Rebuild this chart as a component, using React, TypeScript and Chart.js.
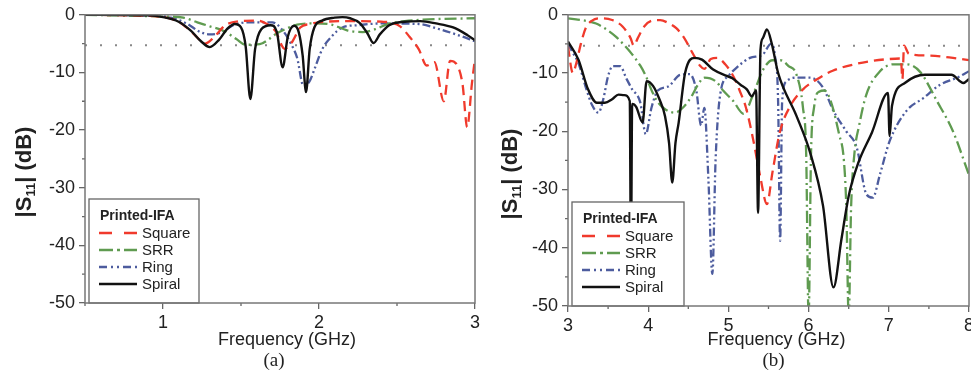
import React, { useEffect, useRef } from "react";
import { Chart, registerables } from "chart.js";
Chart.register(...registerables);

// ---------- Panel (a): 0.5 – 3 GHz ----------
const fA_square = [0.5, 0.8, 1.0, 1.1, 1.15, 1.2, 1.27, 1.33, 1.4, 1.5, 1.6, 1.66, 1.72, 1.78, 1.825, 1.88, 1.94, 2.0, 2.2, 2.4, 2.47, 2.52, 2.58, 2.64, 2.69, 2.74, 2.8, 2.84, 2.88, 2.92, 2.95, 2.98, 3.0];
const sA_square = [0, -0.1, -0.4, -1.2, -2.2, -3.4, -5.0, -3.8, -1.8, -1.1, -1.0, -1.5, -2.8, -5.9, -4.8, -2.2, -1.6, -1.3, -1.1, -1.2, -1.4, -2.0, -3.8, -6.0, -8.8, -8.2, -15.0, -8.0, -8.5, -12.0, -19.5, -12.0, -7.5];

const fA_srr = [0.5, 1.0, 1.13, 1.22, 1.3, 1.39, 1.47, 1.53, 1.62, 1.68, 1.73, 1.8, 1.86, 1.97, 2.08, 2.18, 2.28, 2.36, 2.44, 2.55, 2.7, 3.0];
const sA_srr = [0, -0.3, -0.5, -1.3, -2.0, -2.8, -4.2, -5.2, -5.1, -4.2, -3.2, -2.3, -1.7, -1.5, -1.7, -2.7, -3.0, -2.5, -1.6, -1.1, -0.8, -0.6];

const fA_ring = [0.5, 0.9, 1.05, 1.15, 1.24, 1.3, 1.38, 1.45, 1.55, 1.7, 1.77, 1.82, 1.86, 1.9, 1.94, 1.97, 2.02, 2.08, 2.15, 2.25, 2.4, 2.64, 2.76, 2.9, 3.0];
const sA_ring = [0, -0.1, -0.5, -1.5, -3.0, -3.4, -3.0, -1.8, -1.3, -1.3, -2.8, -5.0, -7.5, -12.3, -11.5, -9.5, -6.0, -3.8, -2.2, -1.8, -1.5, -1.6, -2.4, -3.6, -4.6];

const fA_spiral = [0.5, 0.9, 1.0, 1.1, 1.18, 1.24, 1.3, 1.36, 1.41, 1.46, 1.5, 1.53, 1.56, 1.59, 1.63, 1.69, 1.73, 1.767, 1.8, 1.84, 1.87, 1.895, 1.917, 1.94, 1.97, 2.02, 2.1, 2.15, 2.2, 2.26, 2.31, 2.35, 2.39, 2.45, 2.55, 2.65, 2.75, 2.86, 2.95, 3.0];
const sA_spiral = [0, -0.1, -0.4, -1.2, -2.8, -4.5, -5.6, -4.3, -2.5, -1.6, -2.2, -5.5, -14.6, -6.0, -2.5, -1.8, -3.0, -9.1, -3.8, -1.9, -3.0, -7.0, -13.4, -6.0, -2.2, -1.0, -0.5, -0.4, -0.6, -1.4, -3.2, -4.9, -3.4, -1.8, -1.2, -1.1, -1.5, -2.2, -3.5, -4.4];

// ---------- Panel (b): 3 – 8 GHz ----------
const fB_square = [3.0, 3.06, 3.1, 3.16, 3.22, 3.3, 3.42, 3.55, 3.68, 3.78, 3.82, 3.87, 3.95, 4.05, 4.15, 4.25, 4.35, 4.45, 4.55, 4.65, 4.7, 4.78, 4.86, 4.96, 5.06, 5.14, 5.22, 5.31, 5.4, 5.48, 5.55, 5.64, 5.77, 5.93, 6.1, 6.3, 6.6, 6.8, 7.0, 7.15, 7.17, 7.19, 7.25, 7.5, 7.8, 8.0];
const sB_square = [-5.5, -10.0, -8.5, -5.0, -2.3, -1.0, -0.6, -0.9, -2.0, -4.0, -5.3, -4.0, -2.0, -1.0, -0.9, -1.4, -2.3, -4.0, -6.5, -8.8, -9.3, -7.6, -7.4, -8.5, -10.5, -13.0, -16.0, -21.5, -28.0, -32.5, -27.0, -20.2, -15.7, -12.8, -11.1, -9.6, -8.4, -7.9, -7.6, -7.5, -11.0, -5.3, -6.7, -7.0, -7.4, -7.8];

const fB_srr = [3.0, 3.1, 3.25, 3.35, 3.5, 3.6, 3.7, 3.8, 3.9, 3.97, 4.05, 4.12, 4.22, 4.33, 4.45, 4.54, 4.62, 4.7, 4.85, 4.94, 5.06, 5.19, 5.3, 5.43, 5.55, 5.65, 5.75, 5.85, 5.93, 5.97, 6.0, 6.03, 6.07, 6.13, 6.2, 6.28, 6.38, 6.44, 6.47, 6.5, 6.53, 6.57, 6.63, 6.72, 6.89, 7.06, 7.22, 7.39, 7.6, 7.8, 8.0];
const sB_srr = [-0.6, -0.8, -1.1, -1.5, -2.7, -3.8, -5.2, -6.8, -8.7, -10.5, -13.2, -15.0, -16.3, -16.8, -15.7, -14.0, -12.0, -10.8, -11.5, -13.1, -14.8, -17.0, -14.0, -9.5, -7.8, -7.8, -8.8, -10.3, -16.0, -24.0, -52, -24.0, -15.7, -13.2, -13.0, -15.0, -20.5, -25.0, -33.0, -52, -33.0, -24.0, -19.0, -13.7, -9.7, -8.5, -8.5, -9.8, -14.8, -20.0, -27.5];

const fB_ring = [3.0, 3.06, 3.13, 3.23, 3.3, 3.38, 3.44, 3.5, 3.56, 3.65, 3.73, 3.8, 3.9, 3.97, 4.04, 4.12, 4.25, 4.4, 4.52, 4.6, 4.66, 4.7, 4.75, 4.8, 4.84, 4.9, 5.0, 5.1, 5.27, 5.43, 5.53, 5.58, 5.62, 5.645, 5.67, 5.72, 5.85, 6.02, 6.18, 6.31, 6.47, 6.6, 6.72, 6.8, 6.89, 7.01, 7.22, 7.43, 7.64, 7.85, 8.0];
const sB_ring = [-5.0, -6.5, -8.3, -12.8, -15.5, -16.8, -14.5, -10.5, -8.8, -8.8, -11.0, -12.8, -15.0, -20.5, -16.0, -13.0, -12.3, -10.3, -10.2, -13.0, -19.0, -16.0, -28.0, -44.5, -25.0, -13.5, -10.5, -9.1, -7.4, -6.8, -5.0, -7.0, -15.0, -38.8, -15.0, -11.5, -10.8, -10.8, -12.5, -16.5, -20.0, -22.8, -30.8, -31.4, -27.4, -21.7, -16.5, -14.3, -12.0, -10.8, -9.7];

const fB_spiral = [3.0, 3.13, 3.25, 3.36, 3.46, 3.55, 3.63, 3.7, 3.77, 3.785, 3.8, 3.85, 3.93, 3.98, 4.06, 4.14, 4.21, 4.26, 4.3, 4.34, 4.38, 4.46, 4.58, 4.67, 4.81, 4.98, 5.05, 5.15, 5.23, 5.29, 5.345, 5.37, 5.4, 5.43, 5.48, 5.54, 5.62, 5.85, 6.02, 6.18, 6.31, 6.41, 6.5, 6.62, 6.79, 6.99, 7.01, 7.04, 7.2, 7.45, 7.78, 7.93, 8.0];
const sB_spiral = [-4.6, -7.7, -12.8, -15.1, -15.1, -14.5, -13.7, -13.8, -14.8, -42, -15.3, -15.8, -18.5, -11.4, -12.2, -14.5, -17.4, -22, -28.8, -22, -18.5, -10.0, -7.4, -7.7, -9.4, -10.5, -10.9, -12.0, -12.8, -14.0, -13.0, -34.0, -6.0, -4.0, -2.5, -4.9, -10.0, -17.4, -23.7, -32.8, -46.8, -38.5, -31.1, -25.4, -20.2, -13.4, -20.8, -15.6, -11.7, -10.3, -10.3, -11.7, -11.0];

// reference level (dotted)
const refLevel = -5.3;

// axes
const xTicksA = [0.5, 1, 1.5, 2, 2.5, 3];
const xTicksB = [3, 3.5, 4, 4.5, 5, 5.5, 6, 6.5, 7, 7.5, 8];
const yTicks = [0, -5, -10, -15, -20, -25, -30, -35, -40, -45, -50];

// legend
const legendTitle = "Printed-IFA";
const seriesNames = ["Square", "SRR", "Ring", "Spiral"];

// styles (kept separate from data)
const STYLE = [
  { color: "#f03a2c", dash: [10, 6], legendDash: [13, 12] },
  { color: "#5f9b50", dash: [12, 4, 2, 4], legendDash: [14, 4, 3, 4] },
  { color: "#4d5c9e", dash: [8, 3, 2, 3, 2, 3], legendDash: [8, 4, 2, 4, 2, 4] },
  { color: "#111111", dash: [], legendDash: [] },
];

const FONT = '"Liberation Sans", Arial, Helvetica, sans-serif';
const AXIS_COLOR = "#666";

const pts = (xs: number[], ys: number[]) => xs.map((x, i) => ({ x, y: ys[i] }));
const isMajorX = (v: number) => Number.isInteger(v);
const isMajorY = (v: number) => v % 10 === 0;

type PanelParams = {
  xs: number[][];
  ys: number[][];
  xMin: number;
  xMax: number;
  xTicks: number[];
  yAxisWidth: number;
  padTop: number;
  xAxisHeight: number;
  padRight: number;
  legendW: number;
  caption: string;
  yTitleDx: number;
  yTitleY: number;
  xTitleDx: number;
  capDx: number;
};

function makeDeco(p: PanelParams) {
  return {
    id: "deco",
    afterDatasetsDraw(chart: any) {
      const { ctx, chartArea: ca } = chart;
      const bh = 104;
      const bx = ca.left + 4;
      const by = ca.bottom - bh;
      const bw = p.legendW;
      ctx.save();
      ctx.fillStyle = "#ffffff";
      ctx.fillRect(bx, by, bw, bh);
      ctx.strokeStyle = "#666";
      ctx.lineWidth = 1.3;
      ctx.strokeRect(bx, by, bw, bh);
      ctx.fillStyle = "#222";
      ctx.textAlign = "left";
      ctx.textBaseline = "middle";
      ctx.font = `bold 14px ${FONT}`;
      ctx.fillText(legendTitle, bx + 11, by + 17);
      ctx.font = `15px ${FONT}`;
      seriesNames.forEach((name, i) => {
        const y = by + 34 + i * 17;
        const st = STYLE[i];
        ctx.strokeStyle = st.color;
        ctx.lineWidth = 2.3;
        ctx.setLineDash(st.legendDash);
        ctx.beginPath();
        ctx.moveTo(bx + 10, y);
        ctx.lineTo(bx + 48, y);
        ctx.stroke();
        ctx.setLineDash([]);
        ctx.fillStyle = "#222";
        ctx.fillText(name, bx + 53, y + 1);
      });
      ctx.restore();
    },
    afterDraw(chart: any) {
      const { ctx, chartArea: ca } = chart;
      const xs = chart.scales.x;
      const ys = chart.scales.y;
      ctx.save();
      // minor ticks (short, outward)
      ctx.strokeStyle = AXIS_COLOR;
      ctx.lineWidth = 1.3;
      ctx.beginPath();
      p.xTicks.filter((v) => !isMajorX(v)).forEach((v) => {
        const px = xs.getPixelForValue(v);
        ctx.moveTo(px, ca.bottom);
        ctx.lineTo(px, ca.bottom + 3);
      });
      yTicks.filter((v) => !isMajorY(v)).forEach((v) => {
        const py = ys.getPixelForValue(v);
        ctx.moveTo(ca.left - 3, py);
        ctx.lineTo(ca.left, py);
      });
      ctx.stroke();
      // frame
      ctx.strokeStyle = "#777";
      ctx.lineWidth = 1.5;
      ctx.strokeRect(ca.left, ca.top, ca.right - ca.left, ca.bottom - ca.top);
      // y title with subscript
      ctx.translate(ca.left + p.yTitleDx, p.yTitleY);
      ctx.rotate(-Math.PI / 2);
      ctx.fillStyle = "#222";
      ctx.textBaseline = "middle";
      ctx.textAlign = "left";
      const big = `bold 22px ${FONT}`;
      const small = `bold 13px ${FONT}`;
      const parts: [string, string, number][] = [
        ["|S", big, 0],
        ["11", small, 6],
        ["| (dB)", big, 0],
      ];
      let total = 0;
      parts.forEach(([t, f]) => {
        ctx.font = f;
        total += ctx.measureText(t).width;
      });
      let x = -total / 2;
      parts.forEach(([t, f, dy]) => {
        ctx.font = f;
        ctx.fillText(t, x, dy);
        x += ctx.measureText(t).width;
      });
      ctx.restore();
      ctx.save();
      ctx.fillStyle = "#222";
      ctx.textAlign = "center";
      ctx.textBaseline = "middle";
      ctx.font = `18px ${FONT}`;
      const cx = (ca.left + ca.right) / 2;
      ctx.fillText("Frequency (GHz)", cx + p.xTitleDx, 340);
      ctx.font = `19px "Liberation Serif", "Times New Roman", serif`;
      ctx.fillText(p.caption, cx + p.capDx, 361);
      ctx.restore();
    },
  };
}

function buildConfig(p: PanelParams): any {
  const datasets: any[] = [];
  // draw order: Spiral on top (index 0 drawn last)
  [3, 0, 1, 2].forEach((i) => {
    datasets.push({
      label: seriesNames[i],
      data: pts(p.xs[i], p.ys[i]),
      borderColor: STYLE[i].color,
      borderDash: STYLE[i].dash,
      borderWidth: i === 3 ? 2.4 : 2.3,
      pointRadius: 0,
      cubicInterpolationMode: "monotone",
      fill: false,
    });
  });
  datasets.push({
    label: "ref",
    data: [
      { x: p.xMin, y: refLevel },
      { x: p.xMax, y: refLevel },
    ],
    borderColor: "#888",
    borderDash: [2, 13],
    borderWidth: 2,
    pointRadius: 0,
    fill: false,
  });
  return {
    type: "line",
    data: { datasets },
    options: {
      animation: false,
      responsive: false,
      layout: { padding: { top: p.padTop, right: p.padRight, left: 0, bottom: 0 } },
      plugins: { legend: { display: false }, tooltip: { enabled: false } },
      scales: {
        x: {
          type: "linear",
          min: p.xMin,
          max: p.xMax,
          afterBuildTicks: (s: any) => {
            s.ticks = p.xTicks.map((v) => ({ value: v }));
          },
          afterFit: (s: any) => {
            s.height = p.xAxisHeight;
          },
          ticks: {
            autoSkip: false,
            maxRotation: 0,
            padding: 3,
            color: "#222",
            font: { family: FONT, size: 18 },
            callback: (v: any) => (isMajorX(v) ? String(v) : ""),
          },
          grid: {
            drawOnChartArea: false,
            drawTicks: true,
            tickLength: 6,
            lineWidth: 1.3,
            color: (c: any) => (c.tick && isMajorX(c.tick.value) ? AXIS_COLOR : "rgba(0,0,0,0)"),
          },
          border: { display: false },
        },
        y: {
          type: "linear",
          min: -50,
          max: 0,
          afterBuildTicks: (s: any) => {
            s.ticks = yTicks.map((v) => ({ value: v }));
          },
          afterFit: (s: any) => {
            s.width = p.yAxisWidth;
          },
          ticks: {
            autoSkip: false,
            padding: 4,
            color: "#222",
            font: { family: FONT, size: 18 },
            callback: (v: any) => (isMajorY(v) ? String(v) : ""),
          },
          grid: {
            drawOnChartArea: false,
            drawTicks: true,
            tickLength: 6,
            lineWidth: 1.3,
            color: (c: any) => (c.tick && isMajorY(c.tick.value) ? AXIS_COLOR : "rgba(0,0,0,0)"),
          },
          border: { display: false },
        },
      },
    },
    plugins: [makeDeco(p)],
  };
}

const panelA: PanelParams = {
  xs: [fA_square, fA_srr, fA_ring, fA_spiral],
  ys: [sA_square, sA_srr, sA_ring, sA_spiral],
  xMin: 0.5,
  xMax: 3,
  xTicks: xTicksA,
  yAxisWidth: 85,
  padTop: 14,
  xAxisHeight: 73,
  padRight: 15,
  legendW: 110,
  caption: "(a)",
  yTitleDx: -60,
  yTitleY: 172,
  xTitleDx: 7,
  capDx: -6,
};

const panelB: PanelParams = {
  xs: [fB_square, fB_srr, fB_ring, fB_spiral],
  ys: [sB_square, sB_srr, sB_ring, sB_spiral],
  xMin: 3,
  xMax: 8,
  xTicks: xTicksB,
  yAxisWidth: 78,
  padTop: 13,
  xAxisHeight: 70,
  padRight: 11,
  legendW: 112,
  caption: "(b)",
  yTitleDx: -57,
  yTitleY: 174,
  xTitleDx: 8,
  capDx: 5,
};

function Panel({ params, left }: { params: PanelParams; left: number }) {
  const ref = useRef<HTMLCanvasElement | null>(null);
  useEffect(() => {
    if (!ref.current) return;
    const chart = new Chart(ref.current, buildConfig(params));
    return () => chart.destroy();
  }, [params]);
  return (
    <canvas
      ref={ref}
      width={490}
      height={376}
      style={{ position: "absolute", left, top: 0, width: 490, height: 376 }}
    />
  );
}

export default function App() {
  return (
    <div
      style={{
        position: "absolute",
        left: 0,
        top: 0,
        width: 971,
        height: 376,
        overflow: "hidden",
        background: "#ffffff",
      }}
    >
      <Panel params={panelA} left={0} />
      <Panel params={panelB} left={490} />
    </div>
  );
}
